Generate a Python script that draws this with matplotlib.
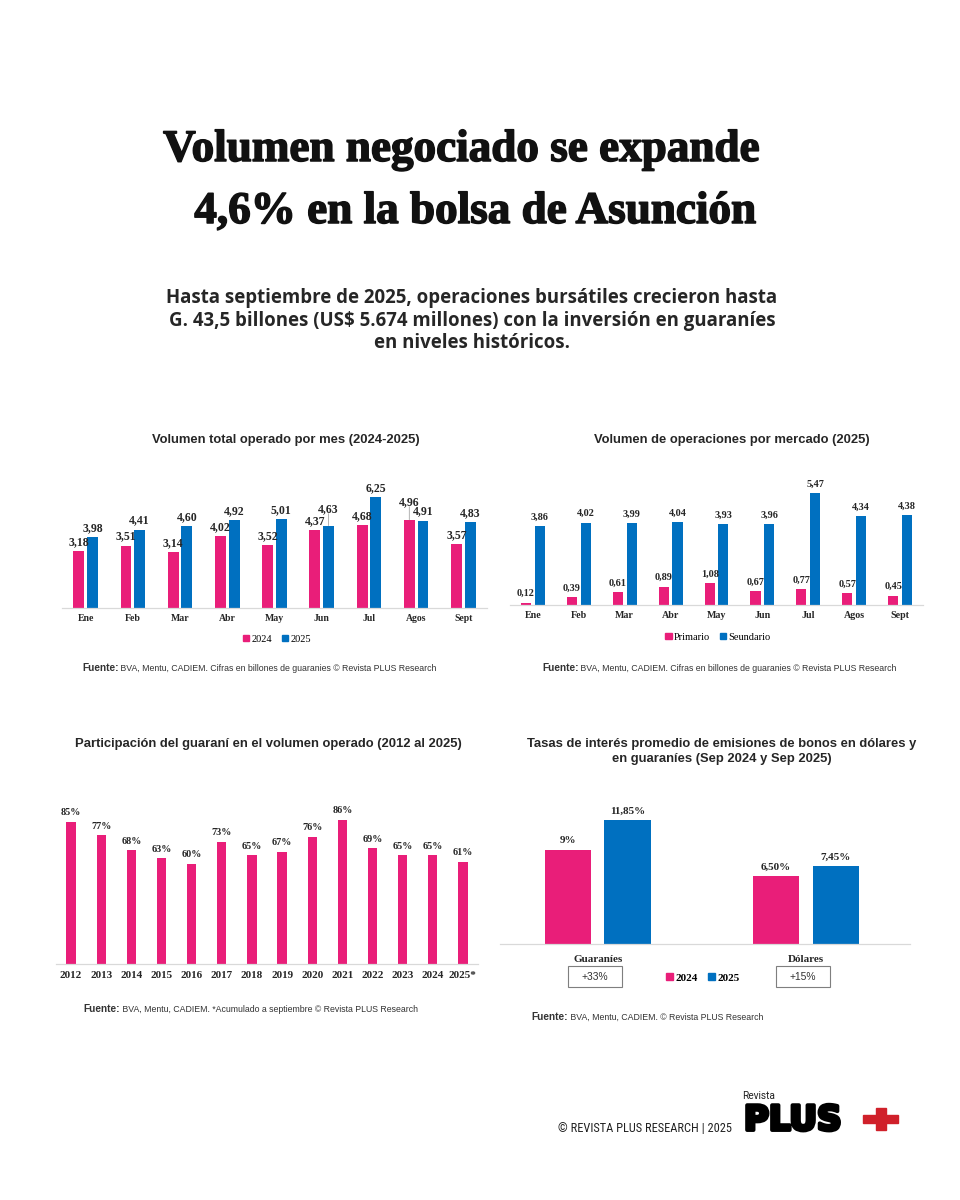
import matplotlib
matplotlib.use('Agg')
import matplotlib.pyplot as plt
from matplotlib.patches import Patch, Rectangle
import matplotlib.transforms as mtransforms
import matplotlib.patheffects as pe

# ---------------- data ----------------
meses = ['Ene', 'Feb', 'Mar', 'Abr', 'May', 'Jun', 'Jul', 'Agos', 'Sept']
vol_2024 = [3.18, 3.51, 3.14, 4.02, 3.52, 4.37, 4.68, 4.96, 3.57]
vol_2025 = [3.98, 4.41, 4.60, 4.92, 5.01, 4.63, 6.25, 4.91, 4.83]

primario = [0.12, 0.39, 0.61, 0.89, 1.08, 0.67, 0.77, 0.57, 0.45]
secundario = [3.86, 4.02, 3.99, 4.04, 3.93, 3.96, 5.47, 4.34, 4.38]

anios = ['2012', '2013', '2014', '2015', '2016', '2017', '2018', '2019',
         '2020', '2021', '2022', '2023', '2024', '2025*']
part_guarani = [85, 77, 68, 63, 60, 73, 65, 67, 76, 86, 69, 65, 65, 61]

monedas = ['Guaraníes', 'Dólares']
tasa_2024 = [9.0, 6.50]
tasa_2025 = [11.85, 7.45]
tasa_lbl_2024 = ['9%', '6,50%']
tasa_lbl_2025 = ['11,85%', '7,45%']
variacion = ['+33%', '+15%']

# ---------------- style ----------------
PINK = '#E91E79'
BLUE = '#0070C0'
GRID = '#D9D9D9'
SERIF = ['Liberation Serif', 'DejaVu Serif']
SANS = ['Liberation Sans', 'DejaVu Sans']
TXT = '#262626'

W, H = 960, 1200
fig = plt.figure(figsize=(9.6, 12), dpi=100)
fig.patch.set_facecolor('white')

PT = 0.72  # points per pixel at 100 dpi


def fx(px):
    return px / W


def fy(py):
    return 1 - py / H


def px_axes(left, right, baseline, top):
    return fig.add_axes([left / W, 1 - baseline / H, (right - left) / W, (baseline - top) / H])


def style_axes(ax, size=7.0, pad=4):
    for s in ['top', 'right', 'left']:
        ax.spines[s].set_visible(False)
    ax.spines['bottom'].set_color(GRID)
    ax.spines['bottom'].set_linewidth(0.9)
    ax.set_yticks([])
    ax.tick_params(axis='x', length=0, pad=pad)
    for lbl in ax.get_xticklabels():
        lbl.set_fontfamily(SERIF)
        lbl.set_fontweight('bold')
        lbl.set_fontsize(size)
        lbl.set_color(TXT)


def fmt(v):
    return f"{v:.2f}".replace('.', ',')


def label_bars(ax, bars, labels, size=7.0, extra=None, leaders=()):
    extra = extra or {}
    for i, (b, t) in enumerate(zip(bars, labels)):
        cx = b.get_x() + b.get_width() / 2
        dy = (9 + extra.get(i, 0)) * PT
        ax.annotate(t, (cx, b.get_height()), xytext=(0, dy), textcoords='offset points',
                    ha='center', va='center', fontsize=size, fontweight='bold',
                    family=SERIF, color=TXT)
        if i in leaders:
            ax.annotate('', (cx, b.get_height()), xytext=(0, dy - 4.5 * PT),
                        textcoords='offset points',
                        arrowprops=dict(arrowstyle='-', color='#A6A6A6', lw=0.6,
                                        shrinkA=0, shrinkB=0))


def source(x, y, rest):
    t1 = fig.text(fx(x), fy(y), 'Fuente:', ha='left', va='center', fontsize=7.3,
                  fontweight='bold', family=SANS, color='#333333')
    plt.annotate(' ' + rest, xy=(1, 0), xycoords=t1, ha='left', va='bottom',
                 fontsize=6.3, family=SANS, color='#333333')


def chart_title(x, y, text, size=9.35):
    fig.text(fx(x), fy(y), text, ha='center', va='center', fontsize=size,
             fontweight='bold', family=SANS, color=TXT, linespacing=1.25)


def legend(x, y, labels, bold=False, size=7.5):
    handles = [Patch(color=PINK), Patch(color=BLUE)]
    fig.legend(handles, labels, loc='center', bbox_to_anchor=(fx(x), fy(y)), ncol=2,
               frameon=False, handlelength=0.6, handleheight=0.6, handletextpad=0.25,
               columnspacing=0.9, borderaxespad=0,
               prop=dict(family=SERIF, size=size, weight='bold' if bold else 'normal'))


# ---------------- main title ----------------
heavy = [pe.withStroke(linewidth=1.1, foreground='#111111')]
fig.text(fx(461), fy(161), 'Volumen negociado se expande', ha='center', va='baseline',
         fontsize=32.5, fontweight='bold', family=SERIF, color='#111111', path_effects=heavy)
fig.text(fx(475), fy(223), '4,6% en la bolsa de Asunción', ha='center', va='baseline',
         fontsize=32.5, fontweight='bold', family=SERIF, color='#111111', path_effects=heavy)

sub_lines = ['Hasta septiembre de 2025, operaciones bursátiles crecieron hasta',
             'G. 43,5 billones (US$ 5.674 millones) con la inversión en guaraníes',
             'en niveles históricos.']
for txt, yy in zip(sub_lines, [298, 321, 343]):
    fig.text(fx(472), fy(yy), txt, ha='center', va='center', fontsize=13.45,
             fontweight='bold', family=['Open Sans', 'DejaVu Sans'], color=TXT)

# ---------------- chart 1 ----------------
ax1 = px_axes(62, 487, 608, 474.5)
x = list(range(len(meses)))
w, off = 0.23, 0.145
b1 = ax1.bar([i - off for i in x], vol_2024, w, color=PINK)
b2 = ax1.bar([i + off for i in x], vol_2025, w, color=BLUE)
ax1.set_xlim(-0.5, len(meses) - 0.5)
ax1.set_ylim(0, 7.5)
ax1.set_xticks(x, meses)
style_axes(ax1, size=7.0)
label_bars(ax1, b1, [fmt(v) for v in vol_2024], size=8.5, extra={7: 8.5}, leaders=(7,))
label_bars(ax1, b2, [fmt(v) for v in vol_2025], size=8.5, extra={5: 7.5}, leaders=(5,))
chart_title(286, 440, 'Volumen total operado por mes (2024-2025)')
legend(277, 639, ['2024', '2025'])
source(82, 668, 'BVA, Mentu, CADIEM. Cifras en billones de guaranies © Revista PLUS Research')

# ---------------- chart 2 ----------------
ax2 = px_axes(510, 923, 605, 471.75)
w2, off2 = 0.22, 0.15
c1 = ax2.bar([i - off2 for i in x], primario, w2, color=PINK)
c2 = ax2.bar([i + off2 for i in x], secundario, w2, color=BLUE)
ax2.set_xlim(-0.5, len(meses) - 0.5)
ax2.set_ylim(0, 6.5)
ax2.set_xticks(x, meses)
style_axes(ax2, size=7.2)
label_bars(ax2, c1, [fmt(v) for v in primario], size=7.4)
label_bars(ax2, c2, [fmt(v) for v in secundario], size=7.4)
chart_title(732, 440, 'Volumen de operaciones por mercado (2025)')
legend(718, 637, ['Primario', 'Seundario'])
source(542, 668, 'BVA, Mentu, CADIEM. Cifras en billones de guaranies © Revista PLUS Research')

# ---------------- chart 3 ----------------
ax3 = px_axes(56, 478, 964, 796.5)
xa = list(range(len(anios)))
d1 = ax3.bar(xa, part_guarani, 0.31, color=PINK)
ax3.set_xlim(-0.5, len(anios) - 0.5)
ax3.set_ylim(0, 100)
ax3.set_xticks(xa, anios)
style_axes(ax3, size=8.0, pad=5)
label_bars(ax3, d1, [f"{v}%" for v in part_guarani], size=7.3)
chart_title(268, 744, 'Participación del guaraní en el volumen operado (2012 al 2025)')
source(83, 1009, 'BVA, Mentu, CADIEM. *Acumulado a septiembre © Revista PLUS Research')

# ---------------- chart 4 ----------------
ax4 = px_axes(500, 910, 944, 797.7)
xm = list(range(len(monedas)))
w4, off4 = 0.222, 0.143
e1 = ax4.bar([i - off4 for i in xm], tasa_2024, w4, color=PINK)
e2 = ax4.bar([i + off4 for i in xm], tasa_2025, w4, color=BLUE)
ax4.set_xlim(-0.47, 1.5)
ax4.set_ylim(0, 14)
ax4.set_xticks(xm, monedas)
style_axes(ax4, size=8.0, pad=8)
label_bars(ax4, e1, tasa_lbl_2024, size=8.0)
label_bars(ax4, e2, tasa_lbl_2025, size=8.0)
trans = mtransforms.blended_transform_factory(ax4.transData, fig.transFigure)
for i, t in zip(xm, variacion):
    ax4.add_patch(Rectangle((i - 0.145, fy(987)), 0.26, 21 / H, transform=trans,
                            fill=False, ec='#7F7F7F', lw=0.8, clip_on=False))
    ax4.text(i - 0.015, fy(976.5), t, transform=trans, ha='center', va='center',
             fontsize=7.4, family=SANS, color='#333333')
chart_title(722, 751.5, 'Tasas de interés promedio de emisiones de bonos en dólares y\n'
            'en guaraníes (Sep 2024 y Sep 2025)')
legend(703, 978, ['2024', '2025'], bold=True, size=8.0)
source(531, 1017, 'BVA, Mentu, CADIEM. © Revista PLUS Research')

# ---------------- footer ----------------
fig.text(fx(558), fy(1129), '© REVISTA PLUS RESEARCH | 2025', ha='left', va='center',
         fontsize=8.9, family=['Roboto Condensed', 'Liberation Sans Narrow', 'Roboto', 'DejaVu Sans'],
         color='#222222')
fig.text(fx(742), fy(1096), 'Revista', ha='left', va='center', fontsize=7.3,
         family=['Roboto', 'DejaVu Sans'], color='#222222')
fig.text(fx(744), fy(1130), 'PLUS', ha='left', va='baseline', fontsize=24.5,
         fontweight='bold', family=['DejaVu Sans'], color='#000000',
         path_effects=[pe.withStroke(linewidth=2.8, foreground='#000000')])
# red plus sign of the logo
RED = '#D0202A'
fig.patches.append(Rectangle((fx(863), fy(1123)), 35 / W, 8 / H, transform=fig.transFigure,
                             color=RED, figure=fig))
fig.patches.append(Rectangle((fx(875.5), fy(1130)), 10 / W, 22 / H, transform=fig.transFigure,
                             color=RED, figure=fig))

fig.savefig('out.png', dpi=100, facecolor='white')
